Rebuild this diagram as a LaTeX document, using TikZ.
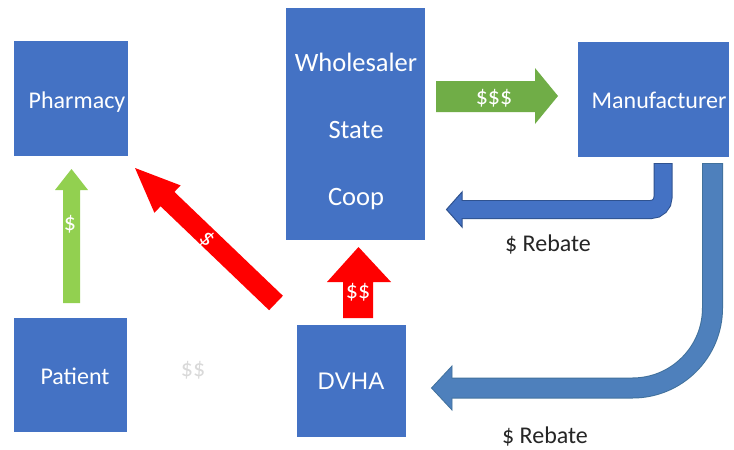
\documentclass[tikz,border=0pt]{standalone}
\usepackage{fontspec}
\setmainfont{Carlito}
\newfontfamily\dvhafont{Liberation Sans}
\definecolor{boxblue}{HTML}{4472C4}
\definecolor{blueedge}{HTML}{2F528F}
\definecolor{bigblue}{HTML}{4E80BC}
\definecolor{bigedge}{HTML}{41719C}
\definecolor{lightgreen}{HTML}{92D050}
\definecolor{midgreen}{HTML}{70AD47}
\definecolor{darktext}{HTML}{262626}
\begin{document}
\begin{tikzpicture}[x=1pt,y=-1pt,
  boxnode/.style={fill=boxblue, draw=none, inner sep=0pt, minimum width=#1},
  boxtext/.style={text=white, inner sep=0pt, anchor=base, font=\fontsize{24}{28}\selectfont},
  bigtext/.style={text=white, inner sep=0pt, anchor=base, font=\fontsize{26.5}{30}\selectfont},
  arrowtext/.style={text=white, inner sep=0pt, font=\fontsize{24}{28}\selectfont},
  rebate/.style={text=darktext, inner sep=0pt, anchor=base, font=\fontsize{24}{28}\selectfont}]
\fill[white] (0,0) rectangle (734,450);
\useasboundingbox (0,0) rectangle (734,450);

% boxes
\node[boxnode=114pt, minimum height=115pt] (pharmacy) at (71,98.5) {};
\node[boxnode=139pt, minimum height=232pt] (wholesaler) at (355.5,124) {};
\node[boxnode=151pt, minimum height=115pt] (manufacturer) at (653.5,99.5) {};
\node[boxnode=113pt, minimum height=114pt] (patient) at (70.5,375) {};
\node[boxnode=109pt, minimum height=112pt] (dvha) at (351.5,381) {};

\node[boxtext] (tpharm) at (77,108) {Pharmacy};
\node[bigtext] (twhole) at (356,71) {Wholesaler};
\node[bigtext] (tstate) at (356,138) {State};
\node[bigtext] (tcoop) at (356,205) {Coop};
\node[boxtext] (tmanu) at (659,108) {Manufacturer};
\node[boxtext] (tpat) at (75,384) {Patient};
\node[boxtext, font=\dvhafont\fontsize{24}{28}\selectfont] (tdvha) at (351,389) {DVHA};

% green arrow Patient -> Pharmacy
\fill[lightgreen] (63,303) -- (80,303) -- (80,190) -- (88,190) -- (71.5,169) -- (55,190) -- (63,190) -- cycle;
\node[arrowtext] (l1) at (70,224) {\$};

% green arrow Wholesaler -> Manufacturer
\fill[midgreen] (436,81) -- (535,81) -- (535,68) -- (558,96) -- (535,124) -- (535,112) -- (436,112) -- cycle;
\node[arrowtext] (l2) at (494,98) {\$\$\$};

% red arrow DVHA -> Wholesaler
\fill[red] (343,318) -- (373,318) -- (373,282) -- (391,282) -- (358.5,247) -- (327,282) -- (343,282) -- cycle;
\node[arrowtext] (l3) at (358,292) {\$\$};

% red arrow DVHA -> Pharmacy
\fill[red] (282.9,295.8) -- (174.4,191.9) -- (180.6,185.4) -- (135,168) -- (154.4,212.8) -- (160.6,206.3) -- (269.1,310.2) -- cycle;
\node[arrowtext, rotate=-44] (l4) at (207,239) {\$};

% faint label
\node[arrowtext, text=black!15] (l5) at (193,370) {\$\$};

% small bent arrow Manufacturer -> Wholesaler
\draw[line width=19pt, blueedge, rounded corners=12pt] (663,163) |- (460,209.5);
\filldraw[fill=boxblue, draw=blueedge, line width=1pt] (462,192) -- (446.5,209.5) -- (462,227) -- cycle;
\draw[line width=17pt, boxblue, rounded corners=12pt] (663,164) |- (460,209.5);
\node[rebate] (r1) at (548,251) {\$ Rebate};

% big bent arrow Manufacturer -> DVHA
\draw[line width=21pt, bigedge, rounded corners=80pt] (712.5,163) |- (450,388);
\filldraw[fill=bigblue, draw=bigedge, line width=0.8pt] (452,366) -- (431.5,388) -- (452,410) -- cycle;
\draw[line width=19pt, bigblue, rounded corners=80pt] (712.5,164) |- (450,388);
\node[rebate] (r2) at (545,443) {\$ Rebate};
\end{tikzpicture}
\end{document}
